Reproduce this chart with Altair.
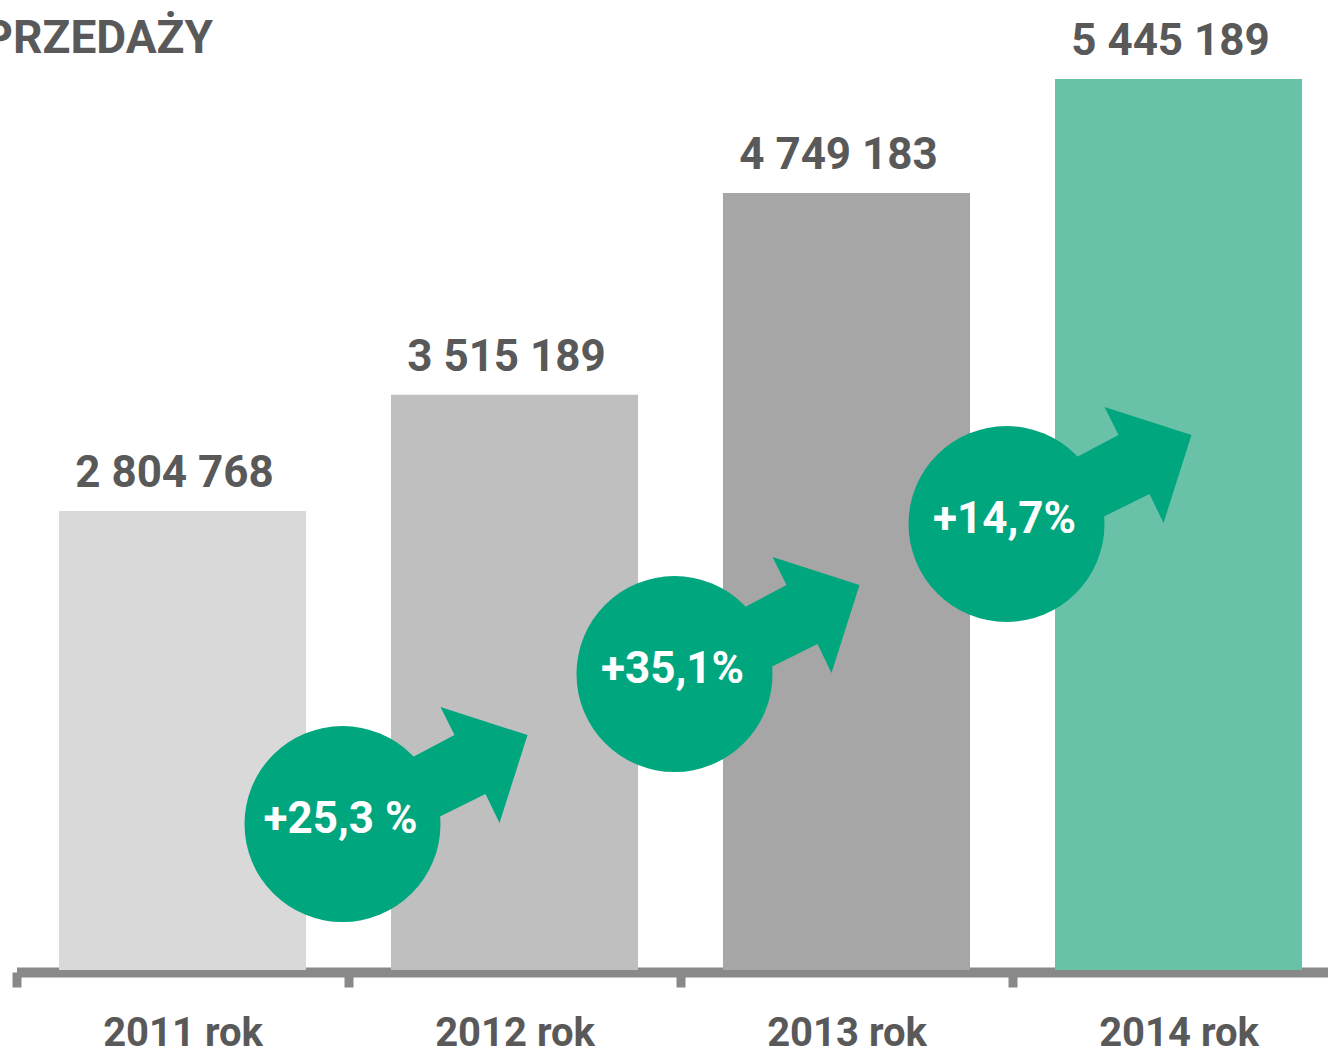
import altair as alt
import pandas as pd

# ---- data ----
years = ["2011 rok", "2012 rok", "2013 rok", "2014 rok"]
sales = [2804768, 3515189, 4749183, 5445189]
sales_labels = ["2 804 768", "3 515 189", "4 749 183", "5 445 189"]
bar_colors = ["#d9d9d9", "#bfbfbf", "#a6a6a6", "#69c2a8"]

growth_to = ["2012 rok", "2013 rok", "2014 rok"]
growth_labels = ["+25,3 %", "+35,1%", "+14,7%"]
badge_level = [892000, 1809000, 2726000]

title_text = ["PRZEDAŻY"]

FONT = "Roboto"
TXT = "#595959"
GREEN = "#00a67e"
AXIS = "#898989"

bars_df = pd.DataFrame({"year": years, "sales": sales, "label": sales_labels})
badge_df = pd.DataFrame({"year": growth_to, "level": badge_level, "label": growth_labels})
title_df = pd.DataFrame({"t": title_text})

xscale = alt.Scale(domain=years, range=[0, 1328], paddingInner=0, paddingOuter=0)
yscale = alt.Scale(domain=[0, 5561920], nice=False, zero=True)

x_enc = alt.X("year:N", scale=xscale, sort=years,
              axis=alt.Axis(title=None, labelAngle=0, domainWidth=10, domainColor=AXIS,
                            domainCap="butt", tickColor=AXIS, tickWidth=9, tickSize=15,
                            offset=2, tickBand="extent", labelFont=FONT, labelFontSize=40,
                            labelFontWeight="bold", labelColor=TXT, labelPadding=58,
                            labelBaseline="alphabetic", grid=False))

bars = alt.Chart(bars_df).mark_bar(width=alt.RelativeBandSize(0.744)).encode(
    x=x_enc,
    y=alt.Y("sales:Q", scale=yscale, axis=None),
    color=alt.Color("year:N", scale=alt.Scale(domain=years, range=bar_colors), legend=None),
)

values = alt.Chart(bars_df).mark_text(
    font=FONT, fontSize=44, fontWeight="bold", color=TXT, baseline="alphabetic",
    align="center", dy=-24, dx=-8,
).encode(
    x=alt.X("year:N", scale=xscale, sort=years),
    y=alt.Y("sales:Q", scale=yscale),
    text="label:N",
)

arrow_path = ("M0.2,-0.255L0.56,-0.445L0.49,-0.585L0.925,-0.445"
              "L0.785,-0.005L0.715,-0.15L0.3,0.055Z")

arrows = alt.Chart(badge_df).mark_point(
    shape=arrow_path, filled=True, size=160000, opacity=1, color=GREEN, strokeWidth=0,
).encode(
    x=alt.X("year:N", scale=xscale, sort=years, bandPosition=0),
    xOffset=alt.value(-6),
    y=alt.Y("level:Q", scale=yscale),
)

circles = alt.Chart(badge_df).mark_circle(
    size=38416, opacity=1, color=GREEN,
).encode(
    x=alt.X("year:N", scale=xscale, sort=years, bandPosition=0),
    xOffset=alt.value(-6),
    y=alt.Y("level:Q", scale=yscale),
)

badge_text = alt.Chart(badge_df).mark_text(
    font=FONT, fontSize=44, fontWeight="bold", color="white", baseline="alphabetic",
    align="center", dy=9, dx=-8,
).encode(
    x=alt.X("year:N", scale=xscale, sort=years, bandPosition=0),
    y=alt.Y("level:Q", scale=yscale),
    text="label:N",
)

title = alt.Chart(title_df).mark_text(
    font=FONT, fontSize=46, fontWeight="bold", color=TXT, baseline="alphabetic",
    align="right",
).encode(
    x=alt.value(196.5),
    y=alt.value(-7),
    text="t:N",
)

chart = alt.layer(bars, values, arrows, circles, badge_text, title).properties(
    width=1311.5,
    height=910,
    padding={"left": 16.5, "top": 60, "right": 0, "bottom": 78},
    autosize=alt.AutoSizeParams(type="none"),
).configure_view(strokeWidth=0)

chart.save("out.html", embed_options={"renderer": "svg", "actions": False})
